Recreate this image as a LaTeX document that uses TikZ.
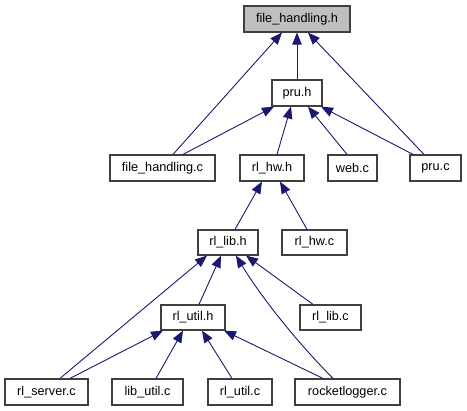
\documentclass[tikz,border=0pt]{standalone}
\usepackage{fontspec}
\setmainfont{Liberation Sans}
\usetikzlibrary{arrows.meta}
\definecolor{edgeblue}{HTML}{191970}
\definecolor{boxborder}{HTML}{404040}
\definecolor{rootfill}{HTML}{BFBFBF}
\tikzset{
  filebox/.style={draw=boxborder, line width=1.2pt, fill=white, minimum height=26pt, inner sep=0pt, font=\fontsize{12.7pt}{14pt}\selectfont},
  rootbox/.style={filebox, fill=rootfill},
  edge/.style={draw=edgeblue, line width=0.9pt, -{Triangle[length=12pt,width=9.5pt]}},
}
\begin{document}
\begin{tikzpicture}[x=1pt,y=-1pt]
\useasboundingbox (0,0) rectangle (467,411);
% nodes
\node[rootbox, minimum width=106pt] (fhh) at (297,19) {file\_handling.h};
\node[filebox, minimum width=50pt] (pruh) at (297,93) {pru.h};
\node[filebox, minimum width=105pt] (fhc) at (162.5,168) {file\_handling.c};
\node[filebox, minimum width=64pt] (rlhwh) at (272,168) {rl\_hw.h};
\node[filebox, minimum width=49pt] (webc) at (352.5,168) {web.c};
\node[filebox, minimum width=51pt] (pruc) at (435.5,168) {pru.c};
\node[filebox, minimum width=60pt, minimum height=25pt] (rllibh) at (228,242.5) {rl\_lib.h};
\node[filebox, minimum width=65pt, minimum height=25pt] (rlhwc) at (314.5,242.5) {rl\_hw.c};
\node[filebox, minimum width=64pt, minimum height=25pt] (rlutilh) at (193,317.5) {rl\_util.h};
\node[filebox, minimum width=61pt, minimum height=25pt] (rllibc) at (330.5,317.5) {rl\_lib.c};
\node[filebox, minimum width=83pt] (rlserverc) at (46.5,392) {rl\_server.c};
\node[filebox, minimum width=71pt] (libutilc) at (147.5,392) {lib\_util.c};
\node[filebox, minimum width=64pt] (rlutilc) at (240,392) {rl\_util.c};
\node[filebox, minimum width=105pt] (rocketc) at (347.5,392) {rocketlogger.c};
% edges to file_handling.h
\draw[edge] ([xshift=10.5pt]fhc.north) -- ([xshift=-15pt]fhh.south);
\draw[edge] (pruh.north) -- (fhh.south);
\draw[edge] ([xshift=-11.5pt]pruc.north) -- ([xshift=11pt]fhh.south);
% edges to pru.h
\draw[edge] ([xshift=20.5pt]fhc.north) -- ([xshift=-23pt]pruh.south);
\draw[edge] ([xshift=5pt]rlhwh.north) -- ([xshift=-6pt]pruh.south);
\draw[edge] ([xshift=-5.5pt]webc.north) -- ([xshift=11pt]pruh.south);
\draw[edge] ([xshift=-22.5pt]pruc.north) -- ([xshift=24pt]pruh.south);
% edges to rl_hw.h
\draw[edge] ([xshift=7pt]rllibh.north) -- ([xshift=-10pt]rlhwh.south);
\draw[edge] ([xshift=-7.5pt]rlhwc.north) -- ([xshift=8pt]rlhwh.south);
% edges to rl_lib.h
\draw[edge] ([xshift=13.5pt]rlserverc.north) -- ([xshift=-21pt]rllibh.south);
\draw[edge] ([xshift=6pt]rlutilh.north) -- ([xshift=-7pt]rllibh.south);
\draw[edge] ([xshift=-14.5pt]rocketc.north) .. controls (292,337) and (258,292) .. ([xshift=8pt]rllibh.south);
\draw[edge] ([xshift=-17.5pt]rllibc.north) -- ([xshift=18pt]rllibh.south);
% edges to rl_util.h
\draw[edge] ([xshift=23.5pt]rlserverc.north) -- ([xshift=-30pt]rlutilh.south);
\draw[edge] ([xshift=8.5pt]libutilc.north) -- ([xshift=-10pt]rlutilh.south);
\draw[edge] ([xshift=-8pt]rlutilc.north) -- ([xshift=9pt]rlutilh.south);
\draw[edge] ([xshift=-24.5pt]rocketc.north) -- ([xshift=31pt]rlutilh.south);
\end{tikzpicture}
\end{document}
